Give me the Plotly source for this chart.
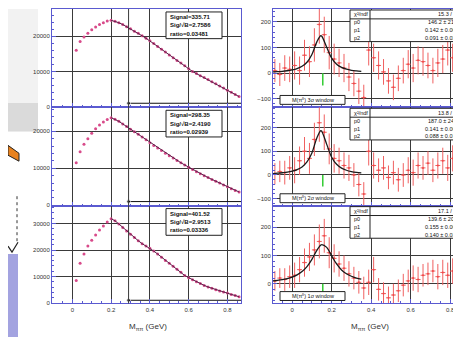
import plotly.graph_objects as go

# ---------------- data ----------------
left_mass = [0.02, 0.04, 0.06, 0.08, 0.10, 0.12, 0.14, 0.16, 0.18, 0.20,
             0.22, 0.24, 0.26, 0.28, 0.30, 0.32, 0.34, 0.36, 0.38, 0.40,
             0.42, 0.44, 0.46, 0.48, 0.50, 0.52, 0.54, 0.56, 0.58, 0.60,
             0.62, 0.64, 0.66, 0.68, 0.70, 0.72, 0.74, 0.76, 0.78, 0.80,
             0.82, 0.84, 0.86]
left_counts_1 = [16000, 18500, 19800, 20800, 21800, 22600, 23300, 23800, 24300, 24500,
                 24200, 23800, 23300, 22700, 22100, 21400, 20800, 20100, 19400, 18700,
                 17900, 17100, 16300, 15500, 14700, 13900, 13100, 12400, 11600, 10800,
                 10000, 9400, 8800, 8300, 7700, 7100, 6500, 5900, 5300, 4700,
                 4100, 3500, 2900]
left_counts_2 = [11500, 14500, 16500, 18000, 19500, 20700, 21700, 22500, 23200, 23700,
                 23300, 22700, 22000, 21300, 20600, 19900, 19200, 18500, 17700, 16900,
                 16200, 15500, 14800, 14100, 13400, 12800, 12100, 11500, 10900, 10300,
                 9700, 9100, 8500, 8000, 7500, 7000, 6500, 6000, 5500, 5000,
                 4500, 4000, 3600]
left_counts_3 = [8500, 15000, 18500, 21500, 23700, 25700, 27500, 29000, 30500, 31800,
                 31000, 29800, 28500, 27200, 25900, 24700, 23500, 22400, 21500, 20700,
                 19600, 18500, 17300, 16100, 15000, 13900, 12800, 11600, 10400, 9600,
                 8800, 8100, 7400, 6700, 6100, 5600, 5100, 4600, 4200, 3800,
                 3300, 2900, 2400]
bkg_range = [0.29, 0.87]
bkg_levels = [1000, 1000, 1100]

right_mass = [-0.0875, -0.0625, -0.0375, -0.0125, 0.0125, 0.0375, 0.0625, 0.0875, 0.1125, 0.1375,
              0.1625, 0.1875, 0.2125, 0.2375, 0.2625, 0.2875, 0.3125, 0.3375, 0.3625, 0.3875,
              0.4125, 0.4375, 0.4625, 0.4875, 0.5125, 0.5375, 0.5625, 0.5875, 0.6125, 0.6375,
              0.6625, 0.6875, 0.7125, 0.7375, 0.7625, 0.7875, 0.8125, 0.8375, 0.8625]
right_yield_1 = [10, -5, 20, 15, 30, 10, 70, 45, 110, 190,
                 150, 80, 55, 40, 20, -15, -40, -70, -95, 90,
                 60, 30, 5, -30, -55, -20, 10, 35, 20, 50,
                 45, 30, 10, 40, 55, 90, 60, 25, 0]
right_yield_2 = [5, 15, 10, 30, 20, 60, 100, 70, 150, 220,
                 180, 110, 70, 60, 40, 30, 0, -40, -80, 100,
                 40, 20, 30, -10, 10, -20, 0, 20, 10, 40,
                 30, 50, 20, 40, 60, 30, 70, 20, 0]
right_yield_3 = [10, 20, 15, 25, 30, 50, 75, 95, 120, 150,
                 170, 110, 90, 70, 55, 35, 20, 5, -15, 5,
                 50, -20, -35, -50, -40, -25, -5, 10, 20, 15,
                 30, 35, 45, 25, 40, 30, 45, 20, 5]
right_err_1 = [45, 45, 50, 50, 55, 55, 60, 60, 65, 75,
               70, 65, 60, 55, 55, 55, 50, 50, 50, 60,
               55, 55, 50, 50, 50, 50, 50, 55, 55, 55,
               55, 50, 50, 55, 55, 60, 55, 55, 50]
right_err_2 = [45, 45, 50, 50, 55, 60, 60, 65, 70, 80,
               75, 65, 60, 55, 55, 55, 50, 50, 50, 60,
               55, 50, 50, 50, 50, 50, 50, 55, 55, 55,
               50, 50, 50, 55, 55, 55, 55, 50, 50]
right_err_3 = [35, 35, 40, 40, 45, 45, 50, 50, 55, 60,
               60, 55, 50, 45, 45, 45, 40, 40, 40, 45,
               45, 40, 40, 40, 40, 40, 40, 40, 45, 45,
               40, 40, 40, 45, 45, 45, 45, 40, 40]

fit_mass = [-0.1, -0.075, -0.05, -0.025, 0.0, 0.025, 0.05, 0.075, 0.1, 0.125,
            0.145, 0.15, 0.175, 0.2, 0.225, 0.25, 0.275, 0.3, 0.325, 0.35]
fit_curve_1 = [4.8, 5.9, 7.4, 9.5, 12.8, 18, 26.7, 42.7, 73, 122,
               146, 144, 101, 58.6, 35, 22.7, 15.6, 11.3, 8.6, 6.7]
fit_curve_2 = [6, 7.5, 9.5, 12, 16, 23, 34, 55, 93, 156,
               187, 184, 129, 75, 45, 29, 20, 14.5, 11, 8.6]
fit_curve_3 = [9.8, 11.9, 14.6, 18.4, 23.7, 31.5, 43, 60.7, 86.6, 118,
               137, 139, 129, 99, 70, 49, 35.5, 26.5, 20.3, 16]
peak_position = 0.155
peak_marker_depth = [-48, -48, -40]

x_tick_values = [0, 0.2, 0.4, 0.6, 0.8]
x_tick_labels = ["0", "0.2", "0.4", "0.6", "0.8"]

left_box_text = [["Signal=335.71", "Sig/√B=2.7586", "ratio=0.03481"],
                 ["Signal=298.35", "Sig/√B=2.4190", "ratio=0.02939"],
                 ["Signal=401.52", "Sig/√B=2.9513", "ratio=0.03336"]]
fit_stats = [["15.3 / 14", "146.2 ± 21.5", "0.142 ± 0.007", "0.091 ± 0.021"],
             ["13.8 / 14", "187.0 ± 24.9", "0.141 ± 0.006", "0.088 ± 0.018"],
             ["17.1 / 14", "139.6 ± 20.2", "0.155 ± 0.009", "0.140 ± 0.030"]]
cut_labels = ["M(π⁰) 3σ window", "M(π⁰) 2σ window", "M(π⁰) 1σ window"]

# ---------------- layout helpers ----------------
W, H = 461, 337
def fx(p):
    return p / W
def fy(p):
    return 1 - p / H

FRAME = "#5a5ad0"
GRID = "#3a3a3a"
FONT = "Liberation Sans"

col_dom = {1: [fx(44), fx(233)], 2: [fx(265), fx(457)]}
row_pix = {1: (0, 99.5), 2: (99.5, 199), 3: (199, 298)}
left_yr = {1: [-150, 27700], 2: [-100, 26500], 3: [-100, 36700]}
right_yr = {1: [-133, 250], 2: [-129, 285], 3: [-70, 277]}
left_xr = [-0.105, 0.87]
right_xr = [-0.097, 0.875]

fig = go.Figure()
layout_axes = {}
shapes = []
annotations = []

left_sets = [left_counts_1, left_counts_2, left_counts_3]
right_sets = [right_yield_1, right_yield_2, right_yield_3]
right_errs = [right_err_1, right_err_2, right_err_3]
fits = [fit_curve_1, fit_curve_2, fit_curve_3]

for r in (1, 2, 3):
    top, bot = row_pix[r]
    ydom = [fy(bot), fy(top)]
    for c in (1, 2):
        k = (r - 1) * 2 + c
        xa = "x" if k == 1 else f"x{k}"
        ya = "y" if k == 1 else f"y{k}"
        common = dict(showline=True, mirror=True, linecolor=FRAME, linewidth=1,
                      ticks="inside", ticklen=4, tickcolor=FRAME, tickwidth=1,
                      showgrid=True, gridcolor=GRID, gridwidth=1, zeroline=False,
                      tickfont=dict(family=FONT, size=6, color="#333333"))
        xaxis = dict(common, domain=col_dom[c], anchor=ya,
                     range=left_xr if c == 1 else right_xr,
                     tickmode="array", tickvals=x_tick_values, ticktext=x_tick_labels,
                     showticklabels=(r == 3),
                     minor=dict(ticks="inside", ticklen=2, tickcolor=FRAME, dtick=0.05, showgrid=False))
        if c == 1:
            yaxis = dict(common, domain=ydom, anchor=xa, range=left_yr[r],
                         tick0=0, dtick=10000, tickformat="d",
                         minor=dict(ticks="inside", ticklen=2, tickcolor=FRAME, dtick=2000, showgrid=False))
        else:
            yaxis = dict(common, domain=ydom, anchor=xa, range=right_yr[r],
                         tick0=0, dtick=100, tickformat="d",
                         minor=dict(ticks="inside", ticklen=2, tickcolor=FRAME, dtick=20, showgrid=False))
        layout_axes["xaxis" if k == 1 else f"xaxis{k}"] = xaxis
        layout_axes["yaxis" if k == 1 else f"yaxis{k}"] = yaxis

        if c == 1:
            vals = left_sets[r - 1]
            shapes.append(dict(type="line", xref=xa, yref=f"{ya} domain",
                               x0=bkg_range[0], x1=bkg_range[0], y0=0, y1=1,
                               line=dict(color=GRID, width=1)))
            fig.add_trace(go.Scatter(x=left_mass, y=vals, mode="markers",
                                     marker=dict(size=3, color="#d84a8a"),
                                     xaxis=xa, yaxis=ya, hoverinfo="skip"))
            fig.add_trace(go.Scatter(x=left_mass[9:], y=vals[9:], mode="lines",
                                     line=dict(color="#5a2048", width=1),
                                     xaxis=xa, yaxis=ya, hoverinfo="skip"))
            lvl = bkg_levels[r - 1]
            fig.add_trace(go.Scatter(x=bkg_range, y=[lvl, lvl], mode="lines+markers",
                                     line=dict(color="#111111", width=1),
                                     marker=dict(size=[4, 0], color="#111111"),
                                     xaxis=xa, yaxis=ya, hoverinfo="skip"))
            bx0, bx1 = 158, 214
            by0 = top + 3
            shapes.append(dict(type="rect", xref="paper", yref="paper",
                               x0=fx(bx0), x1=fx(bx1), y0=fy(by0 + 27), y1=fy(by0),
                               line=dict(color="#222222", width=1), fillcolor="white"))
            for i, t in enumerate(left_box_text[r - 1]):
                annotations.append(dict(x=fx(bx0 + 2), y=fy(by0 + 5 + 8.5 * i), xref="paper", yref="paper",
                                        text=f"<b>{t}</b>", showarrow=False, xanchor="left", yanchor="middle",
                                        font=dict(family=FONT, size=6, color="#111111")))
        else:
            vals = right_sets[r - 1]
            fig.add_trace(go.Scatter(x=right_mass, y=vals, mode="markers",
                                     marker=dict(size=2, color="#f04848"),
                                     error_y=dict(type="data", array=right_errs[r - 1], color="#f06060",
                                                  thickness=1, width=0),
                                     error_x=dict(type="constant", value=0.0125, color="#f06060",
                                                  thickness=1, width=0),
                                     xaxis=xa, yaxis=ya, hoverinfo="skip"))
            fig.add_trace(go.Scatter(x=fit_mass, y=fits[r - 1], mode="lines", line_shape="spline",
                                     line=dict(color="#1a1a1a", width=1.3),
                                     xaxis=xa, yaxis=ya, hoverinfo="skip"))
            fig.add_trace(go.Scatter(x=[peak_position, peak_position], y=[0, peak_marker_depth[r - 1]],
                                     mode="lines", line=dict(color="#33cc33", width=1.5),
                                     xaxis=xa, yaxis=ya, hoverinfo="skip"))
            sx0, sx1 = 342, 457
            sy0, sy1 = top + 1, top + 33
            shapes.append(dict(type="rect", xref="paper", yref="paper",
                               x0=fx(sx0), x1=fx(sx1), y0=fy(sy1), y1=fy(sy0),
                               line=dict(color="#222222", width=1), fillcolor="white"))
            shapes.append(dict(type="line", xref="paper", yref="paper",
                               x0=fx(sx0), x1=fx(sx1), y0=fy(sy0 + 9), y1=fy(sy0 + 9),
                               line=dict(color="#222222", width=1)))
            shapes.append(dict(type="line", xref="paper", yref="paper",
                               x0=fx(sx0 + 20), x1=fx(sx0 + 20), y0=fy(sy1), y1=fy(sy0),
                               line=dict(color="#222222", width=1)))
            names = ["χ²/ndf", "p0", "p1", "p2"]
            for i in range(4):
                yy = fy(sy0 + 4.5 + 8 * i)
                annotations.append(dict(x=fx(sx0 + 2), y=yy, xref="paper", yref="paper",
                                        text=names[i], showarrow=False, xanchor="left", yanchor="middle",
                                        font=dict(family=FONT, size=5.5, color="#111111")))
                annotations.append(dict(x=fx(sx1 - 4), y=yy, xref="paper", yref="paper",
                                        text=fit_stats[r - 1][i], showarrow=False, xanchor="right",
                                        yanchor="middle",
                                        font=dict(family=FONT, size=5.5, color="#111111")))
            lx0, lx1 = 272, 337
            ly1 = bot - 3
            shapes.append(dict(type="rect", xref="paper", yref="paper",
                               x0=fx(lx0), x1=fx(lx1), y0=fy(ly1), y1=fy(ly1 - 9),
                               line=dict(color="#222222", width=1), fillcolor="white"))
            annotations.append(dict(x=fx((lx0 + lx1) / 2), y=fy(ly1 - 4.5), xref="paper", yref="paper",
                                    text=cut_labels[r - 1], showarrow=False, xanchor="center",
                                    yanchor="middle", font=dict(family=FONT, size=5.5, color="#111111")))

for cx in (140, 362):
    annotations.append(dict(x=fx(cx), y=fy(322), xref="paper", yref="paper",
                            text="M<sub>ππ</sub> (GeV)", showarrow=False, xanchor="center",
                            yanchor="middle", font=dict(family=FONT, size=8, color="#333333")))

slide = [
    dict(type="rect", xref="paper", yref="paper", x0=0, x1=fx(30), y0=fy(95), y1=1,
         fillcolor="#f2f2f2", line=dict(width=0), layer="below"),
    dict(type="rect", xref="paper", yref="paper", x0=0, x1=fx(30), y0=fy(124), y1=fy(95),
         fillcolor="#dadada", line=dict(width=0), layer="below"),
    dict(type="path", xref="paper", yref="paper",
         path=f"M 0 {fy(138)} L {fx(11)} {fy(146)} L {fx(11)} {fy(154)} L 0 {fy(148)} Z",
         fillcolor="#e8821e", line=dict(color="#222222", width=1), layer="below"),
    dict(type="rect", xref="paper", yref="paper", x0=0, x1=fx(10), y0=0, y1=fy(248),
         fillcolor="#a3a3e0", line=dict(width=0), layer="below"),
    dict(type="line", xref="paper", yref="paper", x0=fx(9), x1=fx(9), y0=fy(235), y1=fy(188),
         line=dict(color="#333333", width=1, dash="dot"), layer="below"),
    dict(type="path", xref="paper", yref="paper",
         path=f"M 0 {fy(240)} L {fx(4)} {fy(246)} L {fx(10)} {fy(236)}",
         line=dict(color="#222222", width=1.2), layer="below"),
]

fig.update_layout(
    width=W, height=H,
    margin=dict(l=0, r=0, t=0, b=0),
    paper_bgcolor="white", plot_bgcolor="white",
    showlegend=False,
    shapes=slide + shapes,
    annotations=annotations,
    **layout_axes,
)

fig.write_html("out.html")
